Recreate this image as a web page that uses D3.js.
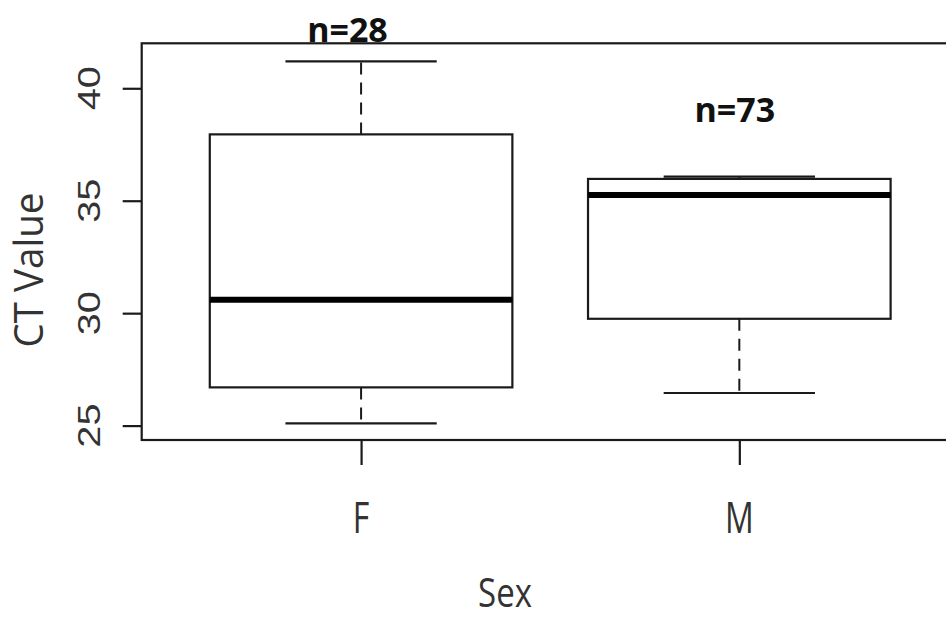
<!DOCTYPE html>
<html>
<head>
<meta charset="utf-8">
<script src="https://cdn.jsdelivr.net/npm/d3@7"></script>
<style>
  html, body { margin: 0; padding: 0; background: #fff; }
  svg { display: block; }
</style>
</head>
<body>
<svg id="chart" width="946" height="619"></svg>
<script>
// ---- data ----
const categories = ["F", "M"];
const lowerWhisker = [25.1, 26.45];
const q1 = [26.7, 29.75];
const median = [30.6, 35.25];
const q3 = [37.95, 35.97];
const upperWhisker = [41.2, 36.07];
const counts = [28, 73];
const yTicks = [25, 30, 35, 40];
const xLabel = "Sex";
const yLabel = "CT Value";

// annotation anchor points (data units)
const countLabelX = [0.964, 1.988];
const countLabelY = [42.07, 38.5];

// ---- layout ----
const svg = d3.select("#chart");
const plotLeft = 141.7, plotTop = 43.3, plotBottom = 440, plotRight = 958.7;

const x = d3.scaleLinear().domain([0.42, 2.58]).range([plotLeft, plotRight]);
const y = d3.scaleLinear().domain([24.36, 42.0]).range([plotBottom, plotTop]);

const ink = "#1a1a1a";
const textCol = "#333";

const data = categories.map((c, i) => ({
  cat: c, pos: i + 1,
  lo: lowerWhisker[i], q1: q1[i], med: median[i], q3: q3[i], hi: upperWhisker[i],
  n: counts[i]
}));

const g = svg.append("g");

// whiskers (dashed)
g.selectAll(".wlo").data(data).enter().append("line")
  .attr("x1", d => x(d.pos)).attr("x2", d => x(d.pos))
  .attr("y1", d => y(d.q1)).attr("y2", d => y(d.lo))
  .attr("stroke", ink).attr("stroke-width", 2).attr("stroke-dasharray", "12,8");
g.selectAll(".whi").data(data).enter().append("line")
  .attr("x1", d => x(d.pos)).attr("x2", d => x(d.pos))
  .attr("y1", d => y(d.q3)).attr("y2", d => y(d.hi))
  .attr("stroke", ink).attr("stroke-width", 2).attr("stroke-dasharray", "12,8");

// whisker caps
["lo", "hi"].forEach(k => {
  g.selectAll(".cap" + k).data(data).enter().append("line")
    .attr("x1", d => x(d.pos - 0.2)).attr("x2", d => x(d.pos + 0.2))
    .attr("y1", d => y(d[k])).attr("y2", d => y(d[k]))
    .attr("stroke", ink).attr("stroke-width", 2.2);
});

// boxes
g.selectAll(".box").data(data).enter().append("rect")
  .attr("x", d => x(d.pos - 0.4))
  .attr("width", d => x(d.pos + 0.4) - x(d.pos - 0.4))
  .attr("y", d => y(d.q3))
  .attr("height", d => y(d.q1) - y(d.q3))
  .attr("fill", "none").attr("stroke", ink).attr("stroke-width", 2.2);

// medians
g.selectAll(".med").data(data).enter().append("line")
  .attr("x1", d => x(d.pos - 0.4)).attr("x2", d => x(d.pos + 0.4))
  .attr("y1", d => y(d.med)).attr("y2", d => y(d.med))
  .attr("stroke", "#000").attr("stroke-width", 6);

// frame
svg.append("rect")
  .attr("x", plotLeft).attr("y", plotTop)
  .attr("width", plotRight - plotLeft).attr("height", plotBottom - plotTop)
  .attr("fill", "none").attr("stroke", ink).attr("stroke-width", 2.2);

// y axis ticks
const yAxis = d3.axisLeft(y).tickValues(yTicks).tickSize(19).tickFormat("");
const ya = svg.append("g").attr("transform", `translate(${plotLeft},0)`).call(yAxis);
ya.select(".domain").remove();
ya.selectAll(".tick line").attr("stroke", ink).attr("stroke-width", 2.2);

// y tick labels rotated
svg.selectAll(".ytl").data(yTicks).enter().append("text")
  .attr("transform", d => `translate(100,${y(d)}) rotate(-90) scale(1.28,1)`)
  .attr("text-anchor", "middle")
  .attr("font-family", "Liberation Sans, Arial, sans-serif")
  .attr("font-size", 31)
  .attr("fill", textCol)
  .text(d => d);

// x axis ticks
const xAxis = d3.axisBottom(x).tickValues(data.map(d => d.pos)).tickSize(25).tickFormat("");
const xa = svg.append("g").attr("transform", `translate(0,${plotBottom})`).call(xAxis);
xa.select(".domain").remove();
xa.selectAll(".tick line").attr("stroke", ink).attr("stroke-width", 2.2);

// x tick labels
svg.selectAll(".xtl").data(data).enter().append("text")
  .attr("transform", d => `translate(${x(d.pos)},533) scale(1,1.38)`)
  .attr("text-anchor", "middle")
  .attr("font-family", "Open Sans, sans-serif")
  .attr("font-size", 32)
  .attr("fill", textCol)
  .text(d => d.cat);

// axis titles
svg.append("text")
  .attr("transform", `translate(505,607) scale(1,1.2)`)
  .attr("text-anchor", "middle")
  .attr("font-family", "Open Sans, sans-serif")
  .attr("font-size", 33)
  .attr("fill", textCol)
  .text(xLabel);

svg.append("text")
  .attr("transform", `translate(43,270) rotate(-90)`)
  .attr("text-anchor", "middle")
  .attr("font-family", "Open Sans, sans-serif")
  .attr("font-size", 41)
  .attr("textLength", 155).attr("lengthAdjust", "spacingAndGlyphs")
  .attr("fill", textCol)
  .text(yLabel);

// count annotations
svg.selectAll(".cnt").data(data).enter().append("text")
  .attr("x", (d, i) => x(countLabelX[i]))
  .attr("y", (d, i) => y(countLabelY[i]))
  .attr("text-anchor", "middle")
  .attr("font-family", "Open Sans, sans-serif")
  .attr("font-weight", 700)
  .attr("font-size", 34)
  .attr("fill", "#111")
  .text(d => "n=" + d.n);
</script>
</body>
</html>
